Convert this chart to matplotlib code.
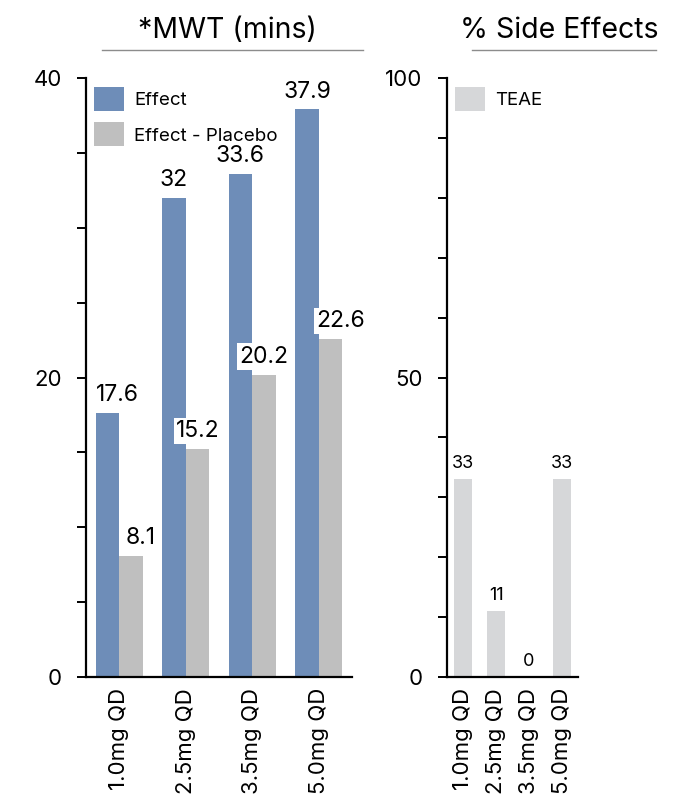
import matplotlib
matplotlib.use("Agg")
import matplotlib.pyplot as plt
from matplotlib.lines import Line2D
import numpy as np

plt.rcParams['font.family'] = ['Inter', 'DejaVu Sans']

doses = ["1.0mg QD", "2.5mg QD", "3.5mg QD", "5.0mg QD"]
effect = [17.6, 32, 33.6, 37.9]
effect_vs_placebo = [8.1, 15.2, 20.2, 22.6]
teae = [33, 11, 0, 33]

BLUE = "#6E8DB8"
GREY = "#BFBFBF"
LIGHT = "#D6D7D9"

fig = plt.figure(figsize=(6.8, 8.08), dpi=100)
W, H = 680, 808


def axes_px(x0, x1, ytop, ybot):
    return fig.add_axes([x0 / W, 1 - ybot / H, (x1 - x0) / W, (ybot - ytop) / H])


def style_axis(ax, ymax, step, labelled):
    ax.set_ylim(0, ymax)
    ax.set_xlim(-0.5, len(doses) - 0.5)
    ticks = np.arange(0, ymax + step / 2, step)
    ax.set_yticks(ticks)
    ax.set_yticklabels([f"{t:g}" if t in labelled else "" for t in ticks])
    ax.spines[['top', 'right']].set_visible(False)
    for s in ('left', 'bottom'):
        ax.spines[s].set_linewidth(1.6)
    ax.tick_params(axis='y', length=6.5, width=1.4, pad=11, labelsize=16)
    ax.tick_params(axis='x', length=0, pad=8, labelsize=16)
    ax.set_xticks(range(len(doses)))
    ax.set_xticklabels(doses, rotation=90)


def label(ax, x, y, txt, size, dx=0, box=False):
    kw = {}
    if box:
        kw['bbox'] = dict(facecolor='white', edgecolor='none', pad=1.5)
    ax.annotate(txt, (x, y), xytext=(dx, 5), textcoords='offset points',
                ha='center', va='bottom', fontsize=size, **kw)


# MWT panel
ax1 = axes_px(86, 352, 78, 677)
x = np.arange(len(doses))
w = 0.355
ax1.bar(x - w / 2, effect, w, color=BLUE, label="Effect")
ax1.bar(x + w / 2, effect_vs_placebo, w, color=GREY, label="Effect - Placebo")
style_axis(ax1, 40, 5, {0, 20, 40})
for i in range(len(doses)):
    label(ax1, x[i] - w / 2, effect[i], f"{effect[i]:g}", 16.5, dx=7 if i == 0 else 0, box=True)
    label(ax1, x[i] + w / 2, effect_vs_placebo[i], f"{effect_vs_placebo[i]:g}", 16.5,
          dx=7 if i in (0, 3) else 0, box=True)
ax1.legend(loc='upper left', bbox_to_anchor=(0.03, 0.985), frameon=False,
           fontsize=13.5, handlelength=1.6, handleheight=1.6, handletextpad=0.55,
           labelspacing=0.6, borderpad=0, borderaxespad=0)

# Side effects panel
ax2 = axes_px(447, 578, 78, 677)
w2 = 0.55
ax2.bar(x, teae, w2, color=LIGHT, label="TEAE")
style_axis(ax2, 100, 10, {0, 50, 100})
for i in range(len(doses)):
    label(ax2, x[i], teae[i], f"{teae[i]:g}", 13)
ax2.legend(loc='upper left', bbox_to_anchor=(0.06, 0.985), frameon=False,
           fontsize=13.5, handlelength=1.6, handleheight=1.6, handletextpad=0.55,
           borderpad=0, borderaxespad=0)

# Panel headings with rules beneath
fig.text(227 / W, 1 - 31 / H, "*MWT (mins)", ha='center', va='center', fontsize=20.5)
fig.text(559 / W, 1 - 31 / H, "% Side Effects", ha='center', va='center', fontsize=20.5)
fig.add_artist(Line2D([102 / W, 363 / W], [1 - 50 / H] * 2, color="#8C8C8C", lw=1.0))
fig.add_artist(Line2D([472 / W, 656 / W], [1 - 50 / H] * 2, color="#8C8C8C", lw=1.0))

fig.savefig("out.png", dpi=100)
